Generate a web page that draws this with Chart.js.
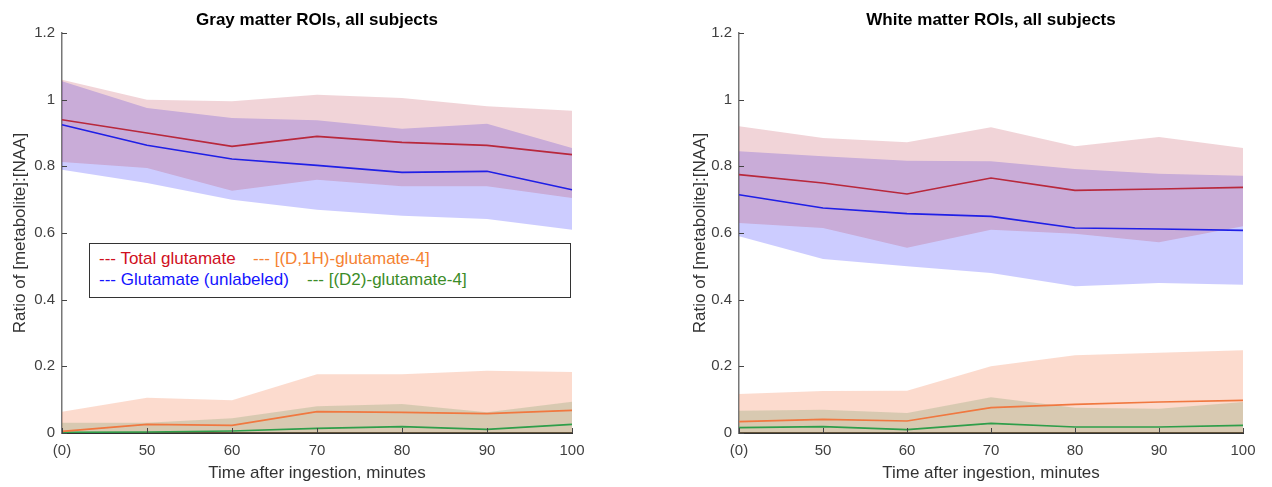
<!DOCTYPE html>
<html lang="en">
<head>
    <meta charset="UTF-8">
    <title>Glutamate / NAA ratios</title>
    <style>
        html, body {
            margin: 0;
            padding: 0;
            background: #ffffff;
        }
        #wrap {
            position: relative;
            width: 1272px;
            height: 487px;
        }
        .panel {
            position: absolute;
            top: 0;
            width: 636px;
            height: 487px;
        }
        #panelGray { left: 0; }
        #panelWhite { left: 636px; }
        /* leyenda tipo MATLAB dentro del primer panel */
        #legend {
            position: absolute;
            left: 89px;
            top: 243px;
            width: 480px;
            height: 53px;
            border: 1.5px solid #333;
            background: #fff;
            font-family: "Liberation Sans", Arial, sans-serif;
            font-size: 17px;
        }
        #legend span {
            position: absolute;
            white-space: nowrap;
            line-height: 20px;
        }
    </style>
    <script src="https://cdn.jsdelivr.net/npm/chart.js"></script>
</head>
<body>
<div id="wrap">
    <div class="panel" id="panelGray"><canvas id="grayChart" width="636" height="487"></canvas></div>
    <div class="panel" id="panelWhite"><canvas id="whiteChart" width="636" height="487"></canvas></div>
    <div id="legend">
        <span style="left:9px; top:5px; color:#d0101e;">--- Total glutamate</span>
        <span style="left:163px; top:5px; color:#f58232;">--- [(D,1H)-glutamate-4]</span>
        <span style="left:9px; top:26px; color:#1414ff;">--- Glutamate (unlabeled)</span>
        <span style="left:217px; top:26px; color:#3c8c28;">--- [(D2)-glutamate-4]</span>
    </div>
</div>

<script>
    // Eje x: tiempo tras la ingestión
    const timeLabels = ['(0)', '50', '60', '70', '80', '90', '100'];

    // Sustancia gris
    const grayTotalMean  = [0.940, 0.900, 0.860, 0.890, 0.872, 0.863, 0.835];
    const grayTotalUpper = [1.060, 1.000, 0.995, 1.015, 1.005, 0.980, 0.967];
    const grayTotalLower = [0.813, 0.795, 0.727, 0.760, 0.740, 0.740, 0.705];
    const grayUnlabMean  = [0.925, 0.863, 0.822, 0.803, 0.782, 0.785, 0.730];
    const grayUnlabUpper = [1.055, 0.975, 0.945, 0.938, 0.913, 0.928, 0.855];
    const grayUnlabLower = [0.790, 0.750, 0.700, 0.670, 0.652, 0.642, 0.610];
    const grayD1HMean    = [0.005, 0.026, 0.023, 0.064, 0.062, 0.058, 0.068];
    const grayD1HUpper   = [0.064, 0.106, 0.098, 0.176, 0.176, 0.187, 0.183];
    const grayD1HLower   = [0, 0, 0, 0, 0, 0, 0];
    const grayD2Mean     = [0.002, 0.003, 0.006, 0.014, 0.019, 0.011, 0.026];
    const grayD2Upper    = [0.031, 0.031, 0.044, 0.080, 0.087, 0.062, 0.094];
    const grayD2Lower    = [0, 0, 0, 0, 0, 0, 0];

    // Sustancia blanca
    const whiteTotalMean  = [0.775, 0.750, 0.717, 0.765, 0.728, 0.732, 0.737];
    const whiteTotalUpper = [0.920, 0.885, 0.872, 0.917, 0.860, 0.888, 0.855];
    const whiteTotalLower = [0.630, 0.615, 0.556, 0.610, 0.598, 0.572, 0.620];
    const whiteUnlabMean  = [0.715, 0.675, 0.658, 0.650, 0.615, 0.612, 0.608];
    const whiteUnlabUpper = [0.845, 0.830, 0.817, 0.815, 0.792, 0.778, 0.772];
    const whiteUnlabLower = [0.590, 0.522, 0.500, 0.480, 0.440, 0.450, 0.445];
    const whiteD1HMean    = [0.034, 0.041, 0.036, 0.076, 0.086, 0.093, 0.098];
    const whiteD1HUpper   = [0.117, 0.126, 0.127, 0.200, 0.233, 0.241, 0.248];
    const whiteD1HLower   = [0, 0, 0, 0, 0, 0, 0];
    const whiteD2Mean     = [0.016, 0.019, 0.010, 0.029, 0.018, 0.018, 0.023];
    const whiteD2Upper    = [0.067, 0.070, 0.060, 0.107, 0.076, 0.073, 0.093];
    const whiteD2Lower    = [0, 0, 0, 0, 0, 0, 0];

    const FONT = '"Liberation Sans", Arial, sans-serif';

    // banda (superior rellena hasta la inferior)
    function band(upper, lower, color) {
        return [
            { data: upper, fill: '+1', backgroundColor: color, borderWidth: 0, borderColor: 'transparent', pointRadius: 0, order: 5 },
            { data: lower, fill: false, borderWidth: 0, borderColor: 'transparent', pointRadius: 0, order: 5 }
        ];
    }
    function line(values, color) {
        return { data: values, fill: false, borderColor: color, borderWidth: 1.6, pointRadius: 0, tension: 0, order: 0 };
    }

    // marcas de los ejes hacia dentro, como en MATLAB
    const innerTicks = {
        id: 'innerTicks',
        afterDraw(chart) {
            const { ctx, chartArea: a, scales: { x, y } } = chart;
            ctx.save();
            ctx.strokeStyle = '#444';
            ctx.lineWidth = 1;
            ctx.beginPath();
            y.ticks.forEach(t => {
                const py = Math.round(y.getPixelForValue(t.value)) + 0.5;
                ctx.moveTo(a.left, py);
                ctx.lineTo(a.left + 5, py);
            });
            x.ticks.forEach((t, i) => {
                const px = Math.round(x.getPixelForTick(i)) + 0.5;
                ctx.moveTo(px, a.bottom);
                ctx.lineTo(px, a.bottom - 5);
            });
            ctx.stroke();
            ctx.restore();
        }
    };

    function makeChart(id, title, s, padLeft, yWidth, padRight) {
        const ctx = document.getElementById(id).getContext('2d');
        return new Chart(ctx, {
            type: 'line',
            data: {
                labels: timeLabels,
                datasets: [
                    ...band(s.totalUpper, s.totalLower, 'rgba(184, 40, 60, 0.2)'),
                    ...band(s.unlabUpper, s.unlabLower, 'rgba(0, 0, 255, 0.2)'),
                    ...band(s.d1hUpper, s.d1hLower, 'rgba(245, 110, 60, 0.25)'),
                    ...band(s.d2Upper, s.d2Lower, 'rgba(40, 150, 80, 0.22)'),
                    line(s.totalMean, '#b8283c'),
                    line(s.unlabMean, '#1f1fe6'),
                    line(s.d1hMean, '#f07840'),
                    line(s.d2Mean, '#2e9e4a')
                ]
            },
            options: {
                responsive: false,
                animation: false,
                layout: { padding: { left: padLeft, right: padRight, top: 0, bottom: 0 } },
                plugins: {
                    legend: { display: false },
                    tooltip: { enabled: false },
                    filler: { drawTime: 'beforeDatasetsDraw' },
                    title: {
                        display: true,
                        text: title,
                        fullSize: false,
                        color: '#000',
                        font: { family: FONT, size: 17, weight: 'bold' },
                        padding: { top: 10, bottom: 2.6 }
                    }
                },
                scales: {
                    x: {
                        grid: { display: false, drawTicks: false },
                        border: { display: true, color: '#333', width: 2 },
                        ticks: { color: '#404040', font: { family: FONT, size: 15 }, padding: 9, maxRotation: 0, autoSkip: false },
                        title: {
                            display: true,
                            text: 'Time after ingestion, minutes',
                            color: '#333',
                            font: { family: FONT, size: 17 },
                            padding: { top: 0, bottom: 3 }
                        },
                        afterFit: scale => { scale.height = 54; }
                    },
                    y: {
                        min: 0,
                        max: 1.2,
                        grid: { display: false, drawTicks: false },
                        border: { display: true, color: '#777', width: 1.5 },
                        ticks: {
                            stepSize: 0.2,
                            color: '#404040',
                            font: { family: FONT, size: 15 },
                            padding: 7,
                            callback: v => String(Number(v.toFixed(2)))
                        },
                        title: {
                            display: true,
                            text: 'Ratio of [metabolite]:[NAA]',
                            color: '#333',
                            font: { family: FONT, size: 17 },
                            padding: { top: 10, bottom: 0 }
                        },
                        afterFit: scale => { scale.width = yWidth; }
                    }
                }
            },
            plugins: [innerTicks]
        });
    }

    window.onload = function() {
        makeChart('grayChart', 'Gray matter ROIs, all subjects', {
            totalMean: grayTotalMean, totalUpper: grayTotalUpper, totalLower: grayTotalLower,
            unlabMean: grayUnlabMean, unlabUpper: grayUnlabUpper, unlabLower: grayUnlabLower,
            d1hMean: grayD1HMean, d1hUpper: grayD1HUpper, d1hLower: grayD1HLower,
            d2Mean: grayD2Mean, d2Upper: grayD2Upper, d2Lower: grayD2Lower
        }, 0, 62, 64);
        makeChart('whiteChart', 'White matter ROIs, all subjects', {
            totalMean: whiteTotalMean, totalUpper: whiteTotalUpper, totalLower: whiteTotalLower,
            unlabMean: whiteUnlabMean, unlabUpper: whiteUnlabUpper, unlabLower: whiteUnlabLower,
            d1hMean: whiteD1HMean, d1hUpper: whiteD1HUpper, d1hLower: whiteD1HLower,
            d2Mean: whiteD2Mean, d2Upper: whiteD2Upper, d2Lower: whiteD2Lower
        }, 44, 59, 29);
    };
</script>
</body>
</html>
